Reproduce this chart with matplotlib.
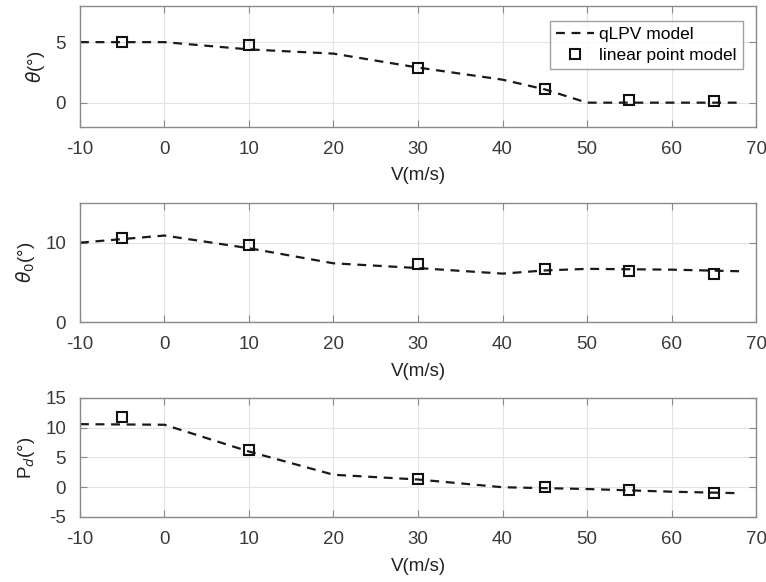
import numpy as np
import matplotlib
matplotlib.use("Agg")
import matplotlib.pyplot as plt

#-----------------------
#Data
#-----------------------
V_line = [-10, 0, 10, 20, 30, 40, 45, 50, 60, 68]
theta_line = [5.0, 5.0, 4.4, 4.05, 2.9, 1.9, 1.1, 0.0, 0.0, 0.0]
theta0_line = [10.0, 10.9, 9.3, 7.4, 6.8, 6.1, 6.5, 6.7, 6.6, 6.4]
pd_line = [10.6, 10.5, 6.0, 2.1, 1.3, 0.0, -0.15, -0.3, -0.75, -1.0]

V_pts = [-5, 10, 30, 45, 55, 65]
theta_pts = [5.0, 4.75, 2.83, 1.14, 0.25, 0.1]
theta0_pts = [10.6, 9.75, 7.25, 6.7, 6.4, 6.0]
pd_pts = [11.8, 6.2, 1.4, 0.1, -0.45, -1.0]

ylabels = [r"$\theta$(°)", r"$\theta_0$(°)", r"P$_d$(°)"]
ylims = [(-2, 8), (0, 15), (-5, 15)]
yticks = [[0, 5], [0, 10], [-5, 0, 5, 10, 15]]
lines = [theta_line, theta0_line, pd_line]
pts = [theta_pts, theta0_pts, pd_pts]

#-----------------------
#Plot
#-----------------------
plt.rcParams['font.family'] = ['Liberation Sans', 'DejaVu Sans']
plt.rcParams['mathtext.fontset'] = 'dejavusans'
plt.rcParams['axes.unicode_minus'] = False
gray = '#8a8a8a'
txt = '#3a3a3a'

fig = plt.figure(figsize=(7.66, 5.82), dpi=100)
rects = [[0.1044, 0.782, 0.8826, 0.208],
         [0.1044, 0.4467, 0.8826, 0.2045],
         [0.1044, 0.1117, 0.8826, 0.2045]]

for i in range(3):
    ax = fig.add_axes(rects[i])
    ax.plot(V_line, lines[i], '--', color='#1a1a1a', lw=1.6, dashes=(4, 3),
            label='qLPV model')
    ax.plot(V_pts, pts[i], 's', mfc='none', mec='#111111', ms=7.5, mew=1.5,
            label='linear point model')
    ax.set_xlim(-10, 70)
    ax.set_ylim(*ylims[i])
    ax.set_xticks(np.arange(-10, 71, 10))
    ax.set_yticks(yticks[i])
    ax.grid(True, color='#e3e3e3', lw=0.8)
    ax.set_axisbelow(True)
    for s in ax.spines.values():
        s.set_color(gray)
        s.set_linewidth(1.0)
    ax.tick_params(direction='in', top=True, right=True, color=gray,
                   labelcolor=txt, labelsize=13.5, length=5, pad=10)
    ax.set_xlabel('V(m/s)', fontsize=13.5, color='#222222', labelpad=7)
    ax.set_ylabel(ylabels[i], fontsize=13.5, color='#222222', labelpad=6)
    if i == 0:
        leg = ax.legend(loc='upper right', fontsize=12.5, frameon=True,
                        fancybox=False, handlelength=2.2, handletextpad=0.3,
                        borderpad=0.35, labelspacing=0.35,
                        bbox_to_anchor=(0.993, 0.95))
        leg.get_frame().set_edgecolor(gray)
        leg.get_frame().set_linewidth(1.0)

plt.savefig("out.png", dpi=100)
